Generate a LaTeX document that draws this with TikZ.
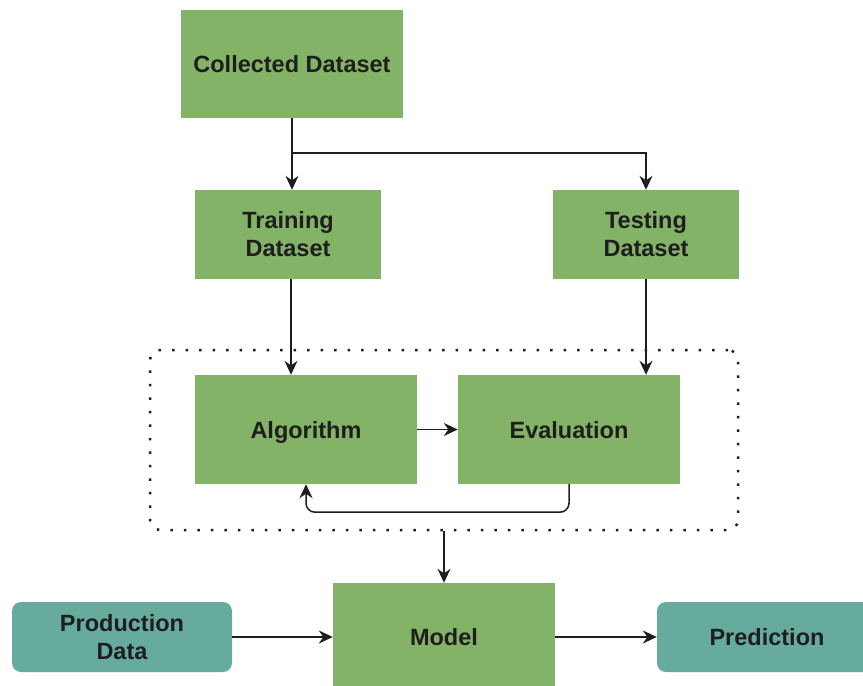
\documentclass[tikz,border=0pt]{standalone}
\usepackage{fontspec}
\setmainfont{Liberation Sans}
\usetikzlibrary{arrows.meta}

\definecolor{boxgreen}{HTML}{82B366}
\definecolor{boxteal}{HTML}{67AB9F}
\definecolor{inkdark}{HTML}{1E1E1E}

\tikzset{
  greenbox/.style={fill=boxgreen, draw=none, align=center, text=inkdark,
    font=\bfseries\fontsize{23.5}{28}\selectfont, inner sep=0pt},
  oneline/.style={text height=17pt, text depth=0pt},
  tealbox/.style={greenbox, fill=boxteal, rounded corners=9pt},
  dotbox/.style={draw=inkdark, line width=2.5pt, dash pattern=on 2.5pt off 11pt,
    rounded corners=10pt, inner sep=0pt},
  flow/.style={draw=inkdark, line width=1.5pt, -{Stealth[length=14pt,width=13pt]}}
}

\begin{document}
\begin{tikzpicture}[x=1pt,y=-1pt]
%\draw[step=50,gray,very thin] (0,0) grid (863,686); %background grid
\useasboundingbox (0,0) rectangle (863,686);

\node[dotbox, minimum width=588pt, minimum height=180pt] (loop) at (444,440) {};

\node[greenbox, oneline, minimum width=222pt, minimum height=108pt] (collected) at (292,64) {Collected Dataset};

\node[greenbox, minimum width=186pt, minimum height=89pt] (training) at (288,234.5) {Training\\Dataset};
\node[greenbox, minimum width=186pt, minimum height=89pt] (testing) at (646,234.5) {Testing\\Dataset};

\node[greenbox, oneline, minimum width=222pt, minimum height=109pt] (algorithm) at (306,429.5) {Algorithm};
\node[greenbox, oneline, minimum width=222pt, minimum height=109pt] (evaluation) at (569,429.5) {Evaluation};

\node[greenbox, oneline, minimum width=222pt, minimum height=108pt] (model) at (444,637) {Model};
\node[tealbox, minimum width=220pt, minimum height=70pt] (production) at (122,637) {Production\\Data};
\node[tealbox, oneline, minimum width=220pt, minimum height=70pt] (prediction) at (767,637) {Prediction};

\coordinate (split) at (292,153);

\draw[flow] (collected.south) -- (collected.south |- training.north);
\draw[flow] (split) -| (testing.north);

\draw[flow] (training.south -| 291,0) -- (algorithm.north -| 291,0);
\draw[flow] (testing.south) -- (testing.south |- evaluation.north);

\draw[flow] (algorithm) -- (evaluation);
\draw[flow, rounded corners=9pt] (evaluation.south) -- ++(0,28) -| (algorithm.south);

\draw[flow] (loop.south) -- (model.north);
\draw[flow] (production) -- (model);
\draw[flow] (model) -- (prediction);

\end{tikzpicture}
\end{document}
